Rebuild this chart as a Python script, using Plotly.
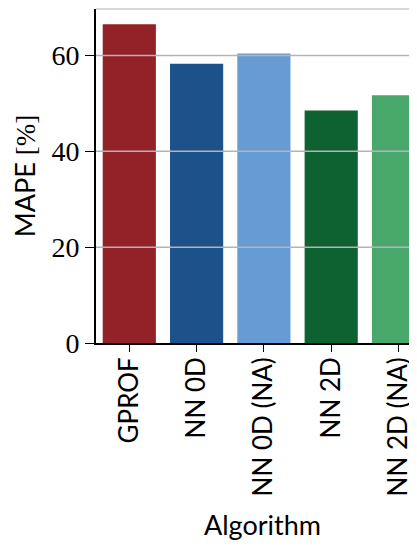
import plotly.graph_objects as go

algorithms = ["GPROF", "NN 0D", "NN 0D (NA)", "NN 2D", "NN 2D (NA)"]
mape = [66.5, 58.3, 60.4, 48.5, 51.7]
colors = ["#922227", "#1c518a", "#669bd4", "#0e6130", "#48a86c"]
yticks = [0, 20, 40, 60]
ytick_labels = ["0", "20", "40", "60"]

SANS = "Lato, 'DejaVu Sans', sans-serif"
SERIF = "'Liberation Serif', 'DejaVu Serif', serif"

fig = go.Figure(go.Bar(
    x=algorithms, y=mape, marker_color=colors, width=0.79,
    marker_line_width=0,
))

grid_shapes = [
    dict(type="line", xref="paper", x0=0, x1=1, yref="y", y0=v, y1=v,
         line=dict(color="#b4b4b4", width=1.5), layer="above")
    for v in yticks if v > 0
]
grid_shapes.append(dict(type="line", xref="paper", x0=0, x1=1, yref="paper", y0=1, y1=1,
                        line=dict(color="#b4b4b4", width=1.2), layer="above"))

# page body has an 8px margin, so the figure is sized to fit inside the window
fig.update_layout(
    width=417, height=534,
    margin=dict(l=88, r=8, t=1, b=199, pad=0, autoexpand=False),
    plot_bgcolor="white", paper_bgcolor="white",
    showlegend=False,
    shapes=grid_shapes,
    xaxis=dict(
        range=[-0.495, 4.275], tickangle=-90, automargin=False,
        tickfont=dict(family=SANS, size=26, color="black"),
        showline=True, linecolor="black", linewidth=1.6,
        ticks="outside", ticklen=7, tickwidth=1.3, tickcolor="black",
        showgrid=False, layer="above traces", ticklabelstandoff=-5,
    ),
    yaxis=dict(
        range=[0, 69.7], tickvals=yticks, ticktext=ytick_labels, automargin=False,
        tickfont=dict(family=SERIF, size=28, color="black"),
        showline=True, linecolor="black", linewidth=1.6,
        ticks="outside", ticklen=9, tickwidth=1.3, tickcolor="black",
        showgrid=False, zeroline=False, layer="above traces",
        title=dict(text="MAPE <span style='font-family:Liberation Serif'>[%]</span>",
                   font=dict(family=SANS, size=27, color="black"), standoff=10),
    ),
    annotations=[dict(text="Algorithm", xref="paper", yref="paper", x=0.52, y=-0.598,
                      xanchor="center", yanchor="bottom", showarrow=False,
                      font=dict(family=SANS, size=27, color="black"))],
)

fig.write_html("out.html")
